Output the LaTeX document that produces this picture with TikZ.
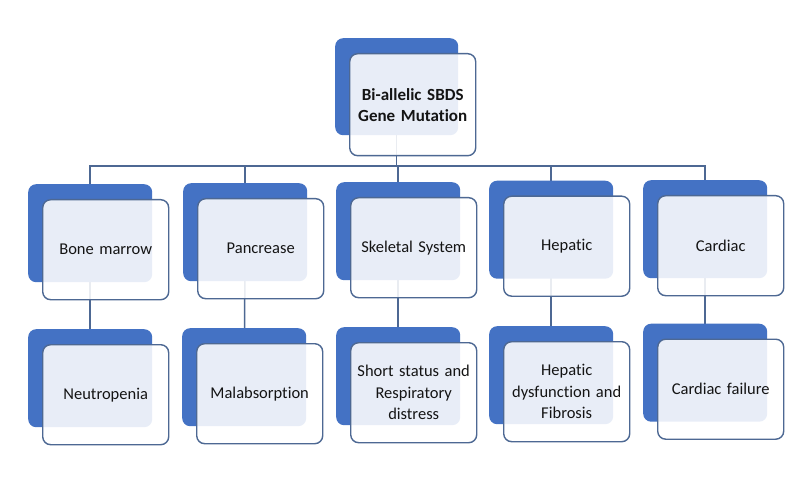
\documentclass[tikz,border=0pt]{standalone}
\usepackage{fontspec}
\setmainfont{Carlito}[Ligatures={NoCommon}, WordSpace=0.6]
\definecolor{bblue}{HTML}{4472C4}
\definecolor{edgec}{HTML}{4D6893}
\definecolor{txt}{HTML}{141414}
\pgfdeclarelayer{bg}
\pgfdeclarelayer{fg}
\pgfsetlayers{bg,main,fg}
\tikzset{
  backbox/.style={fill=bblue, rounded corners=8pt, anchor=north west, inner sep=0pt},
  frontbox/.style={draw=edgec, line width=1.4pt, fill=white, fill opacity=0.88, text opacity=1,
    rounded corners=8pt, anchor=north west, align=center, text=txt, inner sep=2pt,
    font=\fontsize{16.5}{21.5}\selectfont},
  conn/.style={draw=edgec, line width=1.5pt},
}
\newcommand\pbox[4]{%
  \node[backbox, minimum width=124pt, minimum height=98pt] (#1b) at (#2-14,#3-15) {};
  \begin{pgfonlayer}{fg}
  \node[frontbox, minimum width=126pt, minimum height=100pt, text width=120pt] (#1) at (#2,#3) {#4};
  \end{pgfonlayer}}
\begin{document}
\begin{tikzpicture}[x=1pt,y=-1pt]
\useasboundingbox (0,0) rectangle (800,494);
% top
\node[backbox, minimum width=123pt, minimum height=97pt] (topb) at (335,38) {};
\begin{pgfonlayer}{fg}
\node[frontbox, minimum width=126pt, minimum height=102pt, text width=120pt,
  font=\bfseries\fontsize{17}{21}\selectfont] (top) at (349,53) {Bi-allelic SBDS\\Gene Mutation};
\end{pgfonlayer}
% row 1
\pbox{a1}{42}{199}{Bone marrow}
\pbox{a2}{197}{198}{Pancrease}
\pbox{a3}{350}{197}{Skeletal System}
\pbox{a4}{503}{195.5}{Hepatic}
\pbox{a5}{657}{195}{Cardiac}
% row 2
\pbox{r1}{42}{344}{Neutropenia}
\pbox{r2}{196}{343}{Malabsorption}
\pbox{r3}{350}{342}{Short status and\\Respiratory\\distress}
\pbox{r4}{503}{341}{Hepatic\\dysfunction and\\Fibrosis}
\pbox{r5}{657}{338.5}{Cardiac failure}
% connectors
\begin{pgfonlayer}{bg}
\fill[white] (0,0) rectangle (800,494);
\coordinate (hl) at (0,166);
\draw[conn] (topb.center) -- (topb.center |- hl);
\draw[conn] (a1b.center) -- (a1b.center |- hl) -- (a5b.center |- hl) -- (a5b.center);
\foreach \i in {2,3,4}{\draw[conn] (a\i b.center) -- (a\i b.center |- hl);}
\foreach \i in {1,...,5}{\draw[conn] (a\i b.center) -- (r\i b.center);}
\end{pgfonlayer}
\end{tikzpicture}
\end{document}
